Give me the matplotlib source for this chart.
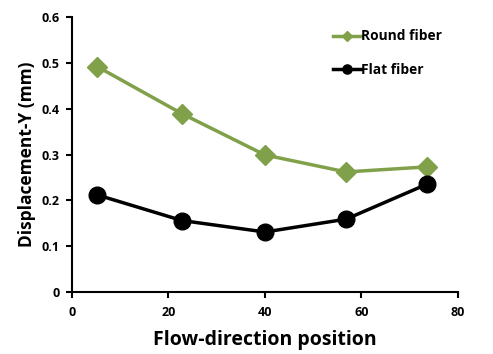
import numpy as np
import matplotlib.pyplot as plt

position = [5.2, 22.8, 40.0, 56.8, 73.5]
round_fiber = [0.492, 0.389, 0.299, 0.262, 0.273]
flat_fiber = [0.212, 0.156, 0.131, 0.159, 0.235]

plt.rcParams['font.family'] = ['Open Sans', 'DejaVu Sans']
plt.rcParams['font.weight'] = 'bold'

fig = plt.figure(figsize=(4.93, 3.54), dpi=100)
ax = fig.add_axes([0.146, 0.175, 0.783, 0.777])

ax.plot(position, round_fiber, color='#80a04a', lw=2.5, marker='D', ms=10,
        label='Round fiber')
ax.plot(position, flat_fiber, color='black', lw=2.5, marker='o', ms=12,
        label='Flat fiber')

ax.set_xlim(0, 80)
ax.set_ylim(0, 0.6)
ax.set_xticks([0, 20, 40, 60, 80])
ax.set_yticks([0, 0.1, 0.2, 0.3, 0.4, 0.5, 0.6])
ax.set_yticklabels(['0', '0.1', '0.2', '0.3', '0.4', '0.5', '0.6'])

for s in ['top', 'right']:
    ax.spines[s].set_visible(False)
for s in ['left', 'bottom']:
    ax.spines[s].set_linewidth(1.5)
ax.tick_params(direction='out', length=4, width=1.5, labelsize=9)
ax.tick_params(axis='x', pad=6)
ax.tick_params(axis='y', pad=5)
for lab in ax.get_xticklabels() + ax.get_yticklabels():
    lab.set_fontweight('bold')

ax.set_xlabel('Flow-direction position', fontsize=14, fontweight='bold', labelpad=8)
ax.set_ylabel('Displacement-Y (mm)', fontsize=12.5, fontweight='bold', labelpad=4)

leg = ax.legend(loc='upper left', bbox_to_anchor=(0.645, 1.0), frameon=False,
                fontsize=9.9, handlelength=2.0, handletextpad=0.0,
                labelspacing=1.45, markerscale=0.55)
for t in leg.get_texts():
    t.set_fontweight('bold')

fig.savefig('out.png', dpi=100)
